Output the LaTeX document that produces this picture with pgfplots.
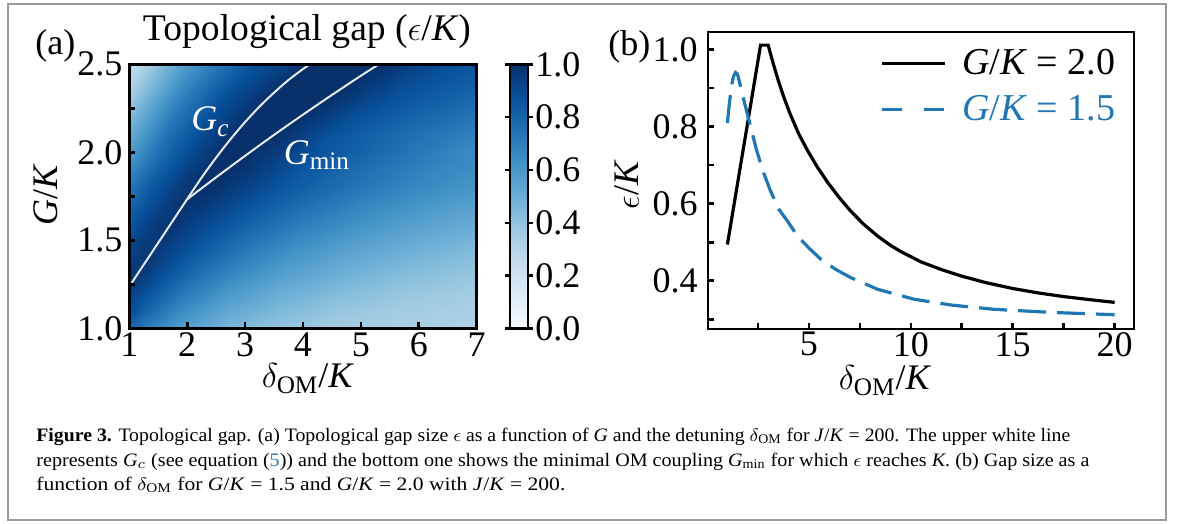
\documentclass[border=0pt]{standalone}
\usepackage{fontspec}
\setmainfont{Liberation Serif}
\usepackage{graphicx}
\usepackage{pgfplots}
\pgfplotsset{compat=1.18}
\definecolor{cblue}{HTML}{1F77B4}
\definecolor{lnk}{HTML}{2C7BB6}
\definecolor{wline}{HTML}{E4EAF0}
\definecolor{framegray}{HTML}{9A9A9A}
\newcommand{\fs}{\fontsize{18}{20}\selectfont}
\newcommand{\cs}{\fontsize{9.5}{11}\selectfont}
\begin{document}
\begin{tikzpicture}
\pgfplotsset{
  colormap={blues}{rgb255=(247,251,255) rgb255=(222,235,247) rgb255=(198,219,239) rgb255=(158,202,225) rgb255=(107,174,214) rgb255=(66,146,198) rgb255=(33,113,181) rgb255=(8,81,156) rgb255=(8,48,107)},
  myax/.style={
    scale only axis,
    axis line style={line width=1.4pt},
    every tick/.append style={line width=1.3pt, black},
    tick align=inside,
    tick pos=left,
    major tick length=3pt,
    minor tick length=3pt,
    tick label style={font=\fs},
    label style={font=\fs},
    /pgf/number format/assume math mode=true,
    xticklabel style={inner sep=1.5pt},
    yticklabel style={inner sep=2.5pt},
  }
}
\draw[framegray, line width=0.85pt] (4.15pt,-2pt) rectangle (582.85pt,-260pt);

% ---------------- panel (a) ----------------
\begin{axis}[myax,
  at={(64.65pt,-164.15pt)}, anchor=south west,
  width=173.7pt, height=132pt,
  xmin=1, xmax=7, ymin=1, ymax=2.5,
  axis on top,
  colormap name=blues, point meta min=0, point meta max=1,
  xtick={1,2,3,4,5,6,7},
  ytick={1,1.5,2,2.5}, minor ytick={1.25,1.75,2.25},
  xticklabel style={yshift=-0.5pt},
  yticklabel style={xshift=-0.8pt, /pgf/number format/.cd, fixed, fixed zerofill, precision=1},
  xlabel={$\delta_{\mathrm{OM}}$/\textit{K}},
  xlabel style={at={(axis description cs:0.514,-0.226)}, anchor=base},
  ylabel={\textit{G}/\textit{K}},
  ylabel style={at={(axis description cs:-0.24,0.505)}, anchor=center},
  title={Topological gap ($\epsilon$/\textit{K})},
  title style={at={(axis description cs:0.5115,1.043)}, anchor=base, font=\fontsize{18.8}{20}\selectfont, inner sep=0pt},
  colorbar,
  colorbar style={
    at={(parent axis.north east)}, anchor=north west, xshift=8.15pt,
    scale only axis, width=9pt, height=132pt,
    ytick={0,0.2,0.4,0.6,0.8,1},
    tick align=outside, major tick length=2.5pt,
    yticklabel pos=right,
    yticklabel style={font=\fs, inner sep=1pt, /pgf/number format/.cd, fixed, fixed zerofill, precision=1, assume math mode=true},
    axis line style={line width=1.2pt},
    every tick/.append style={line width=1.2pt, black},
  },
]
\addplot[surf, shader=interp, mesh/cols=12, point meta=explicit] table[x=x, y=y, meta=z] {
x y z
1 1.0 .809
1 1.0 .809
1 1.0 .809
1 1.0 .809
1 1.0 .809
1.324 1.0 .695
1.918 1.0 .566
2.686 1.0 .464
3.592 1.0 .398
4.624 1.0 .358
5.758 1.0 .337
7 1.0 .324

1 1.1 .895
1 1.1 .895
1 1.1 .895
1 1.1 .895
1 1.1 .895
1.324 1.1 .789
1.918 1.1 .645
2.686 1.1 .528
3.592 1.1 .450
4.624 1.1 .392
5.758 1.1 .358
7 1.1 .339

1 1.2 .949
1 1.2 .949
1 1.2 .949
1 1.2 .949
1 1.2 .949
1.324 1.2 .870
1.918 1.2 .724
2.686 1.2 .600
3.592 1.2 .505
4.624 1.2 .438
5.758 1.2 .390
7 1.2 .359

1 1.3 .965
1.042 1.3 .967
1.083 1.3 .969
1.125 1.3 .97
1.125 1.3 .97
1.442 1.3 .906
2.024 1.3 .779
2.776 1.3 .657
3.663 1.3 .560
4.673 1.3 .485
5.784 1.3 .429
7 1.3 .388

1 1.4 .943
1.109 1.4 .959
1.218 1.4 .969
1.327 1.4 .972
1.327 1.4 .972
1.633 1.4 .920
2.195 1.4 .818
2.921 1.4 .703
3.778 1.4 .609
4.754 1.4 .531
5.826 1.4 .473
7 1.4 .425

1 1.5 .897
1.176 1.5 .937
1.352 1.5 .962
1.528 1.5 .975
1.528 1.5 .975
1.823 1.5 .934
2.365 1.5 .853
3.066 1.5 .750
3.892 1.5 .658
4.833 1.5 .582
5.867 1.5 .519
7 1.5 .468

1 1.6 .843
1.243 1.6 .911
1.486 1.6 .959
1.729 1.6 .984
1.729 1.6 .984
2.014 1.6 .947
2.535 1.6 .885
3.210 1.6 .793
4.006 1.6 .705
4.913 1.6 .631
5.909 1.6 .567
7 1.6 .512

1 1.7 .789
1.31 1.7 .875
1.62 1.7 .943
1.93 1.7 .991
1.93 1.7 .991
2.204 1.7 .974
2.706 1.7 .916
3.355 1.7 .834
4.120 1.7 .752
4.992 1.7 .677
5.951 1.7 .613
7 1.7 .559

1 1.8 .729
1.382 1.8 .849
1.765 1.8 .939
2.147 1.8 1
2.306 1.8 1
2.559 1.8 .980
3.024 1.8 .929
3.625 1.8 .858
4.334 1.8 .787
5.141 1.8 .719
6.028 1.8 .658
7 1.8 .605

1 1.9 .657
1.457 1.9 .808
1.914 1.9 .924
2.371 1.9 1
2.756 1.9 1
2.985 1.9 .978
3.405 1.9 .927
3.949 1.9 .858
4.589 1.9 .798
5.319 1.9 .738
6.121 1.9 .681
7 1.9 .634

1 2.0 .577
1.543 2.0 .770
2.087 2.0 .911
2.61 2.0 1
3.05 2.0 1
3.263 2.0 .982
3.654 2.0 .943
4.16 2.0 .880
4.756 2.0 .826
5.436 2.0 .769
6.182 2.0 .710
7 2.0 .651

1 2.1 .511
1.607 2.1 .737
2.213 2.1 .899
2.82 2.1 1
3.507 2.1 1
3.696 2.1 .978
4.041 2.1 .933
4.489 2.1 .871
5.016 2.1 .827
5.617 2.1 .779
6.277 2.1 .732
7 2.1 .687

1 2.2 .439
1.693 2.2 .700
2.386 2.2 .888
3.079 2.2 1
3.941 2.2 1
4.106 2.2 .981
4.409 2.2 .945
4.801 2.2 .894
5.262 2.2 .853
5.789 2.2 .814
6.367 2.2 .773
7 2.2 .733

1 2.3 .372
1.786 2.3 .666
2.572 2.3 .877
3.358 2.3 1
4.399 2.3 1
4.539 2.3 .985
4.797 2.3 .955
5.130 2.3 .916
5.523 2.3 .873
5.970 2.3 .845
6.462 2.3 .813
7 2.3 .778

1 2.4 .30
1.899 2.4 .631
2.799 2.4 .865
3.698 2.4 1
4.859 2.4 1
4.975 2.4 .989
5.187 2.4 .966
5.461 2.4 .936
5.784 2.4 .897
6.152 2.4 .872
6.557 2.4 .849
7 2.4 .822

1 2.5 .233
2.04 2.5 .599
3.08 2.5 .854
4.12 2.5 1
5.31 2.5 1
5.401 2.5 .993
5.569 2.5 .976
5.785 2.5 .954
6.04 2.5 .926
6.331 2.5 .895
6.65 2.5 .878
7 2.5 .861
};
\addplot[wline, line width=1pt, smooth, tension=0.5] coordinates {
(1,1.238) (1.5,1.486) (1.995,1.732) (2.25,1.857) (2.5,1.970) (2.75,2.075) (3.0,2.172) (3.25,2.260) (3.5,2.339) (3.75,2.411) (4.0,2.473) (4.12,2.5)};
\addplot[wline, line width=1pt, smooth, tension=0.5] coordinates {
(1.995,1.732) (2.5,1.858) (3.0,1.980) (3.5,2.099) (4.0,2.214) (4.5,2.326) (5.0,2.435) (5.31,2.5)};
\node[white, font=\fs] at (axis cs:2.40,2.174) {\textit{G}\textsubscript{\textit{c}}};
\node[white, font=\fs] at (axis cs:4.24,1.985) {\textit{G}\textsubscript{min}};
\end{axis}
\node[anchor=base west, font=\fs, inner sep=0pt] at (17.5pt,-27.5pt) {(a)};

% ---------------- panel (b) ----------------
\begin{axis}[myax,
  at={(354pt,-164.5pt)}, anchor=south west,
  width=213pt, height=148.5pt,
  xmin=0.05, xmax=20.95, ymin=0.275, ymax=1.045,
  xtick={5,10,15,20}, minor xtick={2.5,7.5,12.5,17.5},
  ytick={0.4,0.6,0.8,1.0}, minor ytick={0.3,0.5,0.7,0.9},
  yticklabel style={xshift=-2.5pt, /pgf/number format/.cd, fixed, fixed zerofill, precision=1},
  xlabel={$\delta_{\mathrm{OM}}$/\textit{K}},
  xlabel style={at={(axis description cs:0.4155,-0.205)}, anchor=base},
  ylabel={$\epsilon$/\textit{K}},
  ylabel style={at={(axis description cs:-0.19,0.485)}, anchor=center},
  legend style={at={(axis description cs:0.404,0.965)}, anchor=north west, draw=none, fill=none,
    inner sep=0pt, row sep=2.5pt, column sep=0pt, font=\fontsize{19}{21}\selectfont, nodes={inner sep=3.25pt}},
  legend cell align=left,
  legend image code/.code={\draw[#1] (0pt,0pt) -- (31.5pt,0pt); \path (36pt,0pt);},
]
\addplot[black, line width=1.6pt] coordinates {
(1,0.494) (2.63,1.011) (3.0,1.011) (3.25,0.963) (3.5,0.919) (3.75,0.879) (4.06,0.835) (4.5,0.781) (4.93,0.738) (5.4,0.696) (5.92,0.655) (6.5,0.615) (7.06,0.580) (7.7,0.546) (8.37,0.516) (9.0,0.492) (9.5,0.476) (10.5,0.449) (11.5,0.429) (12.5,0.412) (13.7,0.395) (15,0.380) (16.2,0.369) (17.5,0.359) (18.8,0.351) (20,0.344)};
\addlegendentry{\textit{G}/\textit{K} = 2.0}
\addplot[cblue, line width=1.6pt, dash pattern=on 14pt off 5.5pt,
  legend image code/.code={\draw[cblue, line width=1.6pt, dash pattern=on 10pt off 11pt] (0pt,0pt) -- (31.5pt,0pt); \path (36pt,0pt);}] coordinates {
(1,0.809) (1.1,0.86) (1.2,0.905) (1.3,0.93) (1.4,0.94) (1.5,0.935) (1.65,0.903) (1.8,0.87) (2.14,0.80) (2.4,0.745) (2.72,0.688) (3.1,0.635) (3.53,0.585) (4.0,0.551) (4.44,0.516) (5.0,0.485) (5.58,0.456) (6.3,0.43) (7.06,0.408) (8.37,0.378) (10.17,0.352) (12,0.337) (14.1,0.326) (16.9,0.318) (20,0.312)};
\addlegendentry{\textcolor{cblue}{\textit{G}/\textit{K} = 1.5}}
\end{axis}
\node[anchor=base west, font=\fs, inner sep=0pt] at (304pt,-28pt) {(b)};

% ---------------- caption ----------------
\node[anchor=base west, inner sep=0pt, font=\cs] at (18pt,-220.5pt) {\resizebox{517pt}{\height}{\textbf{Figure 3.} Topological gap. (a) Topological gap size $\epsilon$ as a function of \textit{G} and the detuning $\delta_{\mathrm{OM}}$ for \textit{J}/\textit{K} = 200. The upper white line}};
\node[anchor=base west, inner sep=0pt, font=\cs] at (18pt,-233pt) {\resizebox{526.5pt}{\height}{represents \textit{G}$_c$ (see equation (\textcolor{lnk}{5})) and the bottom one shows the minimal OM coupling \textit{G}$_{\mathrm{min}}$ for which $\epsilon$ reaches \textit{K}. (b) Gap size as a}};
\node[anchor=base west, inner sep=0pt, font=\cs] at (18pt,-245pt) {\resizebox{264.5pt}{\height}{function of $\delta_{\mathrm{OM}}$ for \textit{G}/\textit{K} = 1.5 and \textit{G}/\textit{K} = 2.0 with \textit{J}/\textit{K} = 200.}};

\pgfresetboundingbox
\useasboundingbox (0pt,0pt) rectangle (591pt,-262pt);
\end{tikzpicture}
\end{document}
